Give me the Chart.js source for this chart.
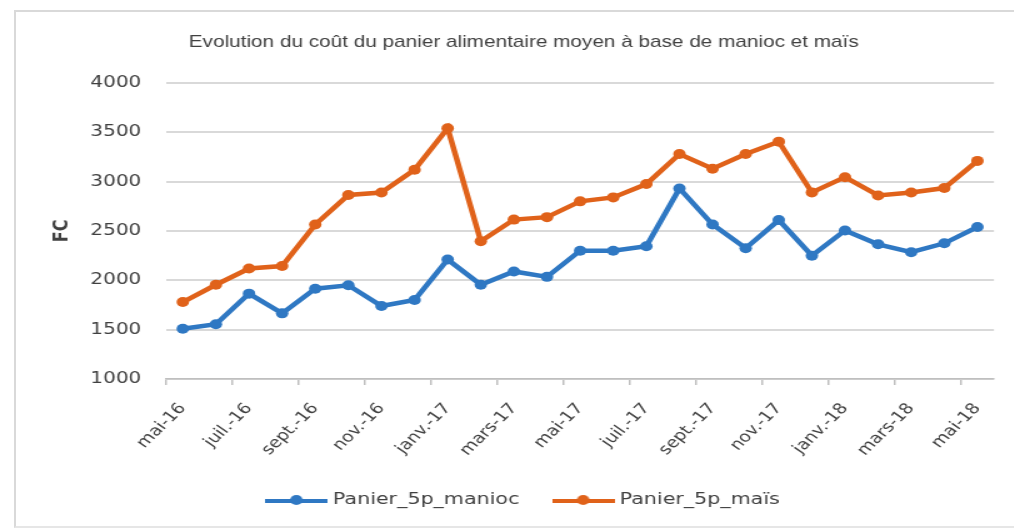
<!DOCTYPE html>
<html lang="fr">
<head>
<meta charset="utf-8">
<title>Panier alimentaire</title>
<script src="https://cdn.jsdelivr.net/npm/chart.js@4/dist/chart.umd.min.js"></script>
<style>
  html, body { margin: 0; padding: 0; background: #fff; overflow: hidden; }
  #cadre {
    position: absolute; left: 14px; top: 10px; width: 1010px; height: 514px;
    border-top: 2px solid #d9d9d9; border-left: 2px solid #d9d9d9; border-bottom: 2px solid #e6e6e6;
  }
  /* le graphique d'origine est étiré horizontalement */
  #zone {
    position: absolute; left: 0; top: 0; width: 811px; height: 531px;
    transform: scaleX(1.25); transform-origin: 0 0;
  }
</style>
</head>
<body>
<div id="cadre"></div>
<div id="zone"><canvas id="graphique"></canvas></div>
<script>
// mois de mai-16 à mai-18
const mois = [
  "mai-16", "juin-16", "juil.-16", "août-16", "sept.-16", "oct.-16", "nov.-16", "déc.-16",
  "janv.-17", "févr.-17", "mars-17", "avr.-17", "mai-17", "juin-17", "juil.-17", "août-17",
  "sept.-17", "oct.-17", "nov.-17", "déc.-17", "janv.-18", "févr.-18", "mars-18", "avr.-18", "mai-18"
];

const panierManioc = [1510, 1555, 1865, 1665, 1915, 1950, 1740, 1800, 2210, 1955, 2090, 2035, 2300,
  2300, 2345, 2930, 2565, 2325, 2610, 2250, 2505, 2365, 2285, 2375, 2540];

const panierMais = [1780, 1955, 2120, 2145, 2565, 2865, 2890, 3120, 3540, 2395, 2615, 2640, 2800,
  2840, 2975, 3280, 3130, 3280, 3405, 2890, 3045, 2860, 2890, 2935, 3210];

const bleu = "#2f78c3";
const orange = "#e0621a";

// petit symbole de légende : trait + rond
function symbole(couleur) {
  const c = document.createElement("canvas");
  c.width = 50;
  c.height = 14;
  const ctx = c.getContext("2d");
  ctx.strokeStyle = couleur;
  ctx.lineWidth = 4;
  ctx.beginPath();
  ctx.moveTo(0, 8);
  ctx.lineTo(50, 8);
  ctx.stroke();
  ctx.fillStyle = couleur;
  ctx.beginPath();
  ctx.arc(25, 7, 5, 0, Math.PI * 2);
  ctx.fill();
  return c;
}

// titre et légende un peu décalés vers la droite, comme sur l'original
const decalage = {
  id: "decalage",
  afterLayout(chart) {
    chart.legend.left += 21;
    chart.legend.right += 21;
    chart.titleBlock.left += 20;
    chart.titleBlock.right += 20;
  }
};

new Chart(document.getElementById("graphique"), {
  type: "line",
  data: {
    labels: mois,
    datasets: [
      { label: "Panier_5p_manioc", data: panierManioc, borderColor: bleu, backgroundColor: bleu,
        borderWidth: 4.5, pointRadius: 5, pointBorderWidth: 0, pointStyle: "circle", fill: false,
        tension: 0 },
      { label: "Panier_5p_maïs", data: panierMais, borderColor: orange, backgroundColor: orange,
        borderWidth: 4.5, pointRadius: 5, pointBorderWidth: 0, pointStyle: "circle", fill: false,
        tension: 0 }
    ]
  },
  options: {
    responsive: true,
    maintainAspectRatio: false,
    animation: false,
    layout: { padding: { left: 0, right: 13, top: 0, bottom: 12.75 } },
    plugins: {
      title: {
        display: true,
        text: "Evolution du coût du panier alimentaire moyen à base de manioc et maïs",
        color: "#404040",
        font: { family: "Liberation Sans", size: 16.6, weight: "normal" },
        padding: { top: 32, bottom: 31 }
      },
      legend: {
        position: "bottom",
        labels: {
          usePointStyle: true,
          pointStyleWidth: 42,
          padding: 30,
          color: "#404040",
          font: { family: "DejaVu Sans", size: 16.5 },
          generateLabels: chart => chart.data.datasets.map((d, i) => ({
            text: d.label,
            pointStyle: symbole(d.borderColor),
            fillStyle: d.borderColor,
            strokeStyle: d.borderColor,
            lineWidth: 0,
            fontColor: "#404040",
            datasetIndex: i
          }))
        }
      },
      tooltip: { enabled: false }
    },
    scales: {
      x: {
        offset: true,
        afterFit: scale => { scale.height = 82.75; },
        grid: {
          offset: true,
          drawOnChartArea: false,
          tickLength: 6,
          lineWidth: 1.5,
          color: ctx => (ctx.index % 2 === 0 ? "#bfbfbf" : "rgba(0,0,0,0)")
        },
        border: { color: "#bfbfbf", width: 1.5 },
        ticks: {
          autoSkip: false,
          minRotation: 50,
          maxRotation: 50,
          padding: 15,
          color: "#404040",
          font: { family: "DejaVu Sans", size: 15 },
          callback: function (val, i) { return i % 2 === 0 ? this.getLabelForValue(val) : ""; }
        }
      },
      y: {
        min: 1000,
        max: 4000,
        afterFit: scale => { scale.width = 133; },
        grid: { color: "#d9d9d9", lineWidth: 2, drawTicks: false },
        border: { display: false },
        ticks: {
          stepSize: 500,
          padding: 20,
          color: "#404040",
          font: { family: "DejaVu Sans", size: 16 },
          callback: val => String(val)
        },
        title: {
          display: true,
          text: "FC",
          color: "#404040",
          font: { family: "DejaVu Sans", size: 16, weight: "bold" },
          padding: { top: 40, bottom: 0 }
        }
      }
    }
  },
  plugins: [decalage]
});
</script>
</body>
</html>
